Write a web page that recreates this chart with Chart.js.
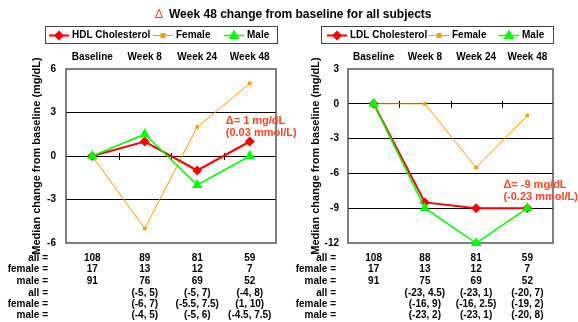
<!DOCTYPE html>
<html><head><meta charset="utf-8">
<script src="https://cdn.jsdelivr.net/npm/chart.js@4.4.1/dist/chart.umd.min.js"></script>
<style>html,body{margin:0;padding:0;background:#fff;width:578px;height:322px;overflow:hidden}
canvas{position:absolute;left:0;top:0}</style></head>
<body><canvas id="c1" width="578" height="322"></canvas><canvas id="c2" width="578" height="322"></canvas>
<script>
const categories = ['Baseline', 'Week 8', 'Week 24', 'Week 48'];
const hdlAll = [0, 1, -1, 1];
const hdlFemale = [0, -5, 2, 5];
const hdlMale = [0, 1.5, -2, 0];
const ldlAll = [0, -8.5, -9, -9];
const ldlFemale = [0, 0, -5.5, -1];
const ldlMale = [0, -9, -12, -9];
const hdlTickRange = [-6, 6, 3];
const ldlTickRange = [-12, 3, 3];
const rowLabels = ['all =', 'female =', 'male ='];
const hdlNAll = ['108', '89', '81', '59'];
const hdlNFemale = ['17', '13', '12', '7'];
const hdlNMale = ['91', '76', '69', '52'];
const hdlRangeAll = ['', '(-5, 5)', '(-5, 7)', '(-4, 8)'];
const hdlRangeFemale = ['', '(-6, 7)', '(-5.5, 7.5)', '(1, 10)'];
const hdlRangeMale = ['', '(-4, 5)', '(-5, 6)', '(-4.5, 7.5)'];
const ldlNAll = ['108', '88', '81', '59'];
const ldlNFemale = ['17', '13', '12', '7'];
const ldlNMale = ['91', '75', '69', '52'];
const ldlRangeAll = ['', '(-23, 4.5)', '(-23, 1)', '(-20, 7)'];
const ldlRangeFemale = ['', '(-16, 9)', '(-16, 2.5)', '(-19, 2)'];
const ldlRangeMale = ['', '(-23, 2)', '(-23, 1)', '(-20, 8)'];
const hdlSeriesNames = ['HDL Cholesterol', 'Female', 'Male'];
const ldlSeriesNames = ['LDL Cholesterol', 'Female', 'Male'];
const hdlNote = ['\u0394= 1 mg/dL', '(0.03 mmol/L)'];
const ldlNote = ['\u0394= -9 mg/dL', '(-0.23 mmol/L)'];
const titleText = 'Week 48 change from baseline for all subjects';
const yTitle = 'Median change from baseline (mg/dL)';

const FONT = "'Liberation Sans', Arial, sans-serif";
const RED = '#FF0000', ORANGE = '#FF9900', GREEN = '#00FF00', NOTE = '#FF4422';

function drawMarker(ctx, style, x, y, r, color) {
  ctx.save();
  ctx.fillStyle = color;
  ctx.beginPath();
  if (style === 'rectRot') {
    ctx.moveTo(x, y - r); ctx.lineTo(x + r, y); ctx.lineTo(x, y + r); ctx.lineTo(x - r, y);
  } else if (style === 'triangle') {
    ctx.moveTo(x, y - r); ctx.lineTo(x + r * 0.9, y + r * 0.6); ctx.lineTo(x - r * 0.9, y + r * 0.6);
  } else {
    ctx.rect(x - r, y - r, 2 * r, 2 * r);
  }
  ctx.closePath();
  ctx.fill();
  ctx.restore();
}

function makeChart(id, o) {
  const extras = {
    id: 'extras' + id,
    beforeDatasetsDraw(chart) {
      const ctx = chart.ctx, a = chart.chartArea, xs = chart.scales.x, ys = chart.scales.y;
      ctx.save();
      ctx.strokeStyle = '#555'; ctx.lineWidth = 1.5;
      ctx.strokeRect(a.left, a.top, a.right - a.left, a.bottom - a.top);
      const y0 = ys.getPixelForValue(0);
      ctx.strokeStyle = '#000'; ctx.lineWidth = 1;
      for (let i = 0; i < categories.length - 1; i++) {
        const x = Math.round((xs.getPixelForValue(i) + xs.getPixelForValue(i + 1)) / 2) + 0.5;
        ctx.beginPath(); ctx.moveTo(x, y0 - 3); ctx.lineTo(x, y0 + 4); ctx.stroke();
      }
      ctx.restore();
    },
    afterDraw(chart) {
      const ctx = chart.ctx, a = chart.chartArea, xs = chart.scales.x, ys = chart.scales.y;
      ctx.save();
      if (o.title) {
        ctx.textBaseline = 'middle'; ctx.textAlign = 'left';
        ctx.fillStyle = NOTE; ctx.font = '12px ' + FONT;
        ctx.fillText('\u0394', 155, 15);
        ctx.fillStyle = '#000'; ctx.font = 'bold 12px ' + FONT;
        ctx.fillText(titleText, 169, 15);
      }
      const lb = o.legendBox;
      ctx.fillStyle = '#fff'; ctx.fillRect(lb[0], lb[1], lb[2] - lb[0], lb[3] - lb[1]);
      ctx.strokeStyle = '#444'; ctx.lineWidth = 1;
      ctx.strokeRect(lb[0] + 0.5, lb[1] + 0.5, lb[2] - lb[0], lb[3] - lb[1]);
      const ly = (lb[1] + lb[3]) / 2 + 1;
      chart.data.datasets.forEach((ds, i) => {
        const x = o.legendX[i];
        ctx.strokeStyle = ds.borderColor; ctx.lineWidth = ds.borderWidth;
        ctx.beginPath(); ctx.moveTo(x, ly); ctx.lineTo(x + 20, ly); ctx.stroke();
        drawMarker(ctx, ds.pointStyle, x + 10, ly, ds.pointRadius, ds.borderColor);
        ctx.fillStyle = '#000'; ctx.font = 'bold 10px ' + FONT;
        ctx.textAlign = 'left'; ctx.textBaseline = 'middle';
        ctx.fillText(ds.label, x + 23, ly);
      });
      ctx.save();
      ctx.translate(o.yTitleX, (a.top + a.bottom) / 2);
      ctx.rotate(-Math.PI / 2);
      ctx.font = 'bold 11px ' + FONT; ctx.fillStyle = '#000';
      ctx.textAlign = 'center'; ctx.textBaseline = 'middle';
      ctx.fillText(yTitle, 0, 0);
      ctx.restore();
      const nx = xs.getPixelForValue(categories.length - 1) - 24;
      const ny = ys.getPixelForValue(o.noteValue);
      ctx.font = 'bold 11px ' + FONT; ctx.fillStyle = NOTE;
      ctx.textAlign = 'left'; ctx.textBaseline = 'middle';
      ctx.fillText(o.note[0], nx, ny);
      ctx.fillText(o.note[1], nx, ny + 12);
      ctx.font = 'bold 10px ' + FONT; ctx.fillStyle = '#000';
      const rowsY = [258, 269.5, 281, 293, 304, 315];
      o.rows.forEach((vals, r) => {
        const y = rowsY[r];
        ctx.textAlign = 'right';
        ctx.fillText(rowLabels[r % 3], o.rowLabelX, y);
        ctx.textAlign = 'center';
        vals.forEach((v, i) => ctx.fillText(v, xs.getPixelForValue(i), y));
      });
      ctx.restore();
    }
  };
  return new Chart(document.getElementById(id), {
    type: 'line',
    data: {
      labels: categories,
      datasets: [
        { label: o.names[0], data: o.series[0], borderColor: RED, backgroundColor: RED, borderWidth: 2,
          pointStyle: 'rectRot', pointRadius: 5, pointBorderWidth: 0, order: 1 },
        { label: o.names[1], data: o.series[1], borderColor: ORANGE, backgroundColor: ORANGE, borderWidth: 1,
          pointStyle: 'rect', pointRadius: 2.5, pointBorderWidth: 0, order: 2 },
        { label: o.names[2], data: o.series[2], borderColor: GREEN, backgroundColor: GREEN, borderWidth: 1.5,
          pointStyle: 'triangle', pointRadius: 6, pointBorderWidth: 0, order: 0 }
      ]
    },
    options: {
      responsive: false, animation: false, devicePixelRatio: 1, events: [],
      layout: { padding: { left: o.padLeft, right: o.padRight, top: 47, bottom: 79 } },
      elements: { line: { tension: 0 }, point: { hoverRadius: 0 } },
      clip: false,
      plugins: { legend: { display: false }, tooltip: { enabled: false }, title: { display: false } },
      scales: {
        x: {
          type: 'category', position: 'top', offset: true,
          grid: { display: false, drawTicks: false }, border: { display: false },
          ticks: { color: '#000', font: { family: FONT, size: 10, weight: 'bold' }, padding: 6, maxRotation: 0 },
          afterFit(s) { s.height = 22; }
        },
        y: {
          min: o.range[0], max: o.range[1],
          border: { display: false },
          grid: { drawTicks: false, lineWidth: 1,
            color: c => (c.tick.value === o.range[0] || c.tick.value === o.range[1]) ? 'rgba(0,0,0,0)' : '#000' },
          ticks: { stepSize: o.range[2], color: '#000', font: { family: FONT, size: 10, weight: 'bold' }, padding: o.tickPad },
          afterFit(s) { s.width = o.yWidth; }
        }
      }
    },
    plugins: [extras]
  });
}

makeChart('c1', {
  title: true, names: hdlSeriesNames, series: [hdlAll, hdlFemale, hdlMale], range: hdlTickRange,
  padLeft: 0, yWidth: 66, tickPad: 10, padRight: 302,
  legendBox: [45, 26, 277, 43], legendX: [49, 153, 224], yTitleX: 37,
  note: hdlNote, noteValue: 2.45, rowLabelX: 48,
  rows: [hdlNAll, hdlNFemale, hdlNMale, hdlRangeAll, hdlRangeFemale, hdlRangeMale]
});
makeChart('c2', {
  title: false, names: ldlSeriesNames, series: [ldlAll, ldlFemale, ldlMale], range: ldlTickRange,
  padLeft: 289, yWidth: 59, tickPad: 9, padRight: 25,
  legendBox: [321, 26, 553, 43], legendX: [327, 429, 499], yTitleX: 316,
  note: ldlNote, noteValue: -7.0, rowLabelX: 336,
  rows: [ldlNAll, ldlNFemale, ldlNMale, ldlRangeAll, ldlRangeFemale, ldlRangeMale]
});
</script>
</body></html>
